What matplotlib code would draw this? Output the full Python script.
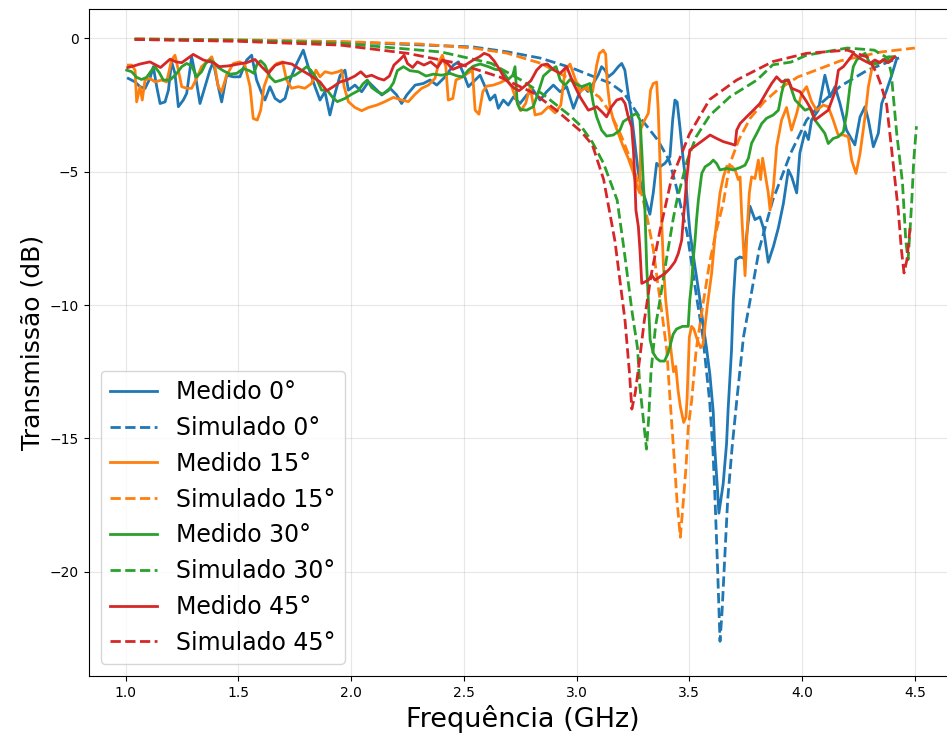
import matplotlib
matplotlib.use("Agg")
import matplotlib.pyplot as plt

# ---- Medido 0° ----
f_med_0 = [1.012, 1.042, 1.064, 1.086, 1.108, 1.123, 1.138, 1.153, 1.175, 1.190, 1.204, 1.219, 1.234, 1.256,
           1.271, 1.293, 1.308, 1.330, 1.352, 1.374, 1.389, 1.411, 1.426, 1.448, 1.478, 1.507, 1.537, 1.559,
           1.581, 1.604, 1.618, 1.640, 1.663, 1.685, 1.707, 1.729, 1.759, 1.788, 1.810, 1.840, 1.862, 1.884,
           1.906, 1.929, 1.951, 1.973, 1.988, 2.017, 2.047, 2.077, 2.099, 2.136, 2.173, 2.202, 2.224, 2.247,
           2.284, 2.320, 2.350, 2.380, 2.417, 2.454, 2.476, 2.498, 2.520, 2.542, 2.572, 2.594, 2.616, 2.638,
           2.653, 2.675, 2.697, 2.720, 2.749, 2.779, 2.808, 2.838, 2.867, 2.897, 2.927, 2.956, 2.986, 3.010,
           3.030, 3.050, 3.074, 3.096, 3.111, 3.126, 3.141, 3.163, 3.185, 3.200, 3.214, 3.229, 3.244, 3.259,
           3.273, 3.288, 3.307, 3.325, 3.340, 3.355, 3.370, 3.392, 3.414, 3.426, 3.436, 3.446, 3.458, 3.473,
           3.485, 3.495, 3.503, 3.525, 3.547, 3.562, 3.576, 3.591, 3.606, 3.613, 3.624, 3.631, 3.650, 3.665,
           3.672, 3.687, 3.695, 3.706, 3.724, 3.742, 3.754, 3.769, 3.791, 3.813, 3.828, 3.850, 3.873, 3.895,
           3.917, 3.939, 3.954, 3.976, 3.990, 4.013, 4.028, 4.042, 4.072, 4.101, 4.124, 4.146, 4.168, 4.197,
           4.234, 4.257, 4.279, 4.294, 4.316, 4.338, 4.353, 4.375, 4.397, 4.420]
db_med_0 = [-1.51, -1.64, -1.82, -1.89, -1.51, -1.07, -1.82, -2.45, -2.39, -1.95, -0.89, -1.32, -2.57, -2.32,
            -2.07, -0.70, -1.32, -2.45, -1.82, -1.20, -0.89, -1.82, -2.39, -1.39, -1.45, -1.45, -0.82, -0.64,
            -1.57, -2.07, -2.32, -1.82, -2.26, -2.39, -2.26, -1.57, -0.95, -0.45, -1.07, -1.82, -2.32, -2.01,
            -2.88, -2.07, -1.40, -1.20, -1.95, -1.76, -2.01, -1.64, -1.82, -2.13, -1.88, -2.13, -2.45, -2.13,
            -1.76, -1.70, -1.57, -1.76, -1.45, -1.01, -0.89, -1.32, -1.82, -1.64, -1.39, -1.82, -2.32, -2.13,
            -2.63, -2.32, -2.51, -2.20, -2.45, -2.13, -1.95, -2.32, -2.01, -1.76, -2.01, -1.82, -2.63, -2.10,
            -1.80, -2.00, -1.70, -1.38, -1.07, -1.20, -1.45, -1.30, -1.07, -0.95, -1.20, -2.10, -2.90, -4.00,
            -5.00, -5.60, -6.10, -6.60, -5.80, -4.69, -4.82, -4.69, -4.44, -3.07, -2.32, -2.40, -3.32, -4.57,
            -5.44, -6.57, -7.30, -8.57, -9.80, -10.8, -11.6, -12.6, -14.0, -15.4, -16.8, -17.8, -16.7, -15.2,
            -13.9, -11.7, -9.80, -8.30, -8.20, -8.25, -7.40, -6.30, -6.80, -6.70, -7.10, -8.40, -7.80, -7.10,
            -6.20, -4.94, -5.20, -5.80, -4.30, -3.51, -3.80, -3.07, -2.70, -1.39, -2.20, -1.82, -2.45, -3.45,
            -4.00, -2.95, -2.57, -3.07, -4.07, -3.57, -2.45, -1.95, -1.40, -0.76]

# ---- Simulado 0° ----
f_sim_0 = [1.04, 1.30, 1.60, 1.95, 2.20, 2.54, 2.69, 2.84, 2.98, 3.06, 3.15, 3.21, 3.28, 3.36, 3.41, 3.44,
           3.49, 3.534, 3.56, 3.59, 3.605, 3.614, 3.625, 3.636, 3.645, 3.655, 3.67, 3.69, 3.71, 3.74, 3.77,
           3.81, 3.87, 3.95, 4.02, 4.09, 4.17, 4.29, 4.43]
db_sim_0 = [-0.05, -0.07, -0.10, -0.14, -0.22, -0.33, -0.51, -0.75, -1.12, -1.39, -1.69, -2.06, -2.96, -3.82,
            -4.57, -5.50, -7.30, -9.80, -11.2, -13.6, -15.5, -17.3, -19.8, -22.6, -21.5, -19.8, -17.3, -15.3,
            -13.6, -11.2, -9.80, -7.90, -6.07, -4.30, -3.07, -2.40, -1.80, -1.20, -0.74]

# ---- Medido 15° ----
f_med_15 = [1.012, 1.027, 1.042, 1.049, 1.064, 1.074, 1.086, 1.108, 1.130, 1.160, 1.182, 1.204, 1.219, 1.234,
            1.249, 1.271, 1.293, 1.315, 1.337, 1.360, 1.382, 1.396, 1.411, 1.426, 1.448, 1.478, 1.507, 1.529,
            1.552, 1.566, 1.584, 1.599, 1.614, 1.640, 1.670, 1.696, 1.714, 1.736, 1.766, 1.795, 1.825, 1.844,
            1.862, 1.884, 1.914, 1.943, 1.958, 1.969, 1.988, 2.017, 2.047, 2.077, 2.114, 2.150, 2.188, 2.224,
            2.254, 2.284, 2.313, 2.343, 2.372, 2.390, 2.405, 2.420, 2.431, 2.451, 2.465, 2.490, 2.520, 2.538,
            2.550, 2.567, 2.584, 2.601, 2.631, 2.661, 2.690, 2.712, 2.731, 2.752, 2.774, 2.794, 2.816, 2.845,
            2.875, 2.905, 2.930, 2.949, 2.971, 2.993, 3.015, 3.045, 3.071, 3.089, 3.101, 3.111, 3.118, 3.129,
            3.136, 3.148, 3.163, 3.185, 3.207, 3.229, 3.250, 3.270, 3.280, 3.285, 3.300, 3.318, 3.328, 3.340,
            3.355, 3.362, 3.370, 3.377, 3.385, 3.395, 3.410, 3.420, 3.430, 3.440, 3.450, 3.460, 3.475, 3.485,
            3.490, 3.500, 3.510, 3.520, 3.535, 3.550, 3.560, 3.580, 3.599, 3.614, 3.636, 3.651, 3.666, 3.688,
            3.703, 3.717, 3.725, 3.732, 3.740, 3.747, 3.757, 3.766, 3.776, 3.791, 3.806, 3.816, 3.825, 3.836,
            3.850, 3.858, 3.873, 3.887, 3.909, 3.931, 3.953, 3.976, 3.998, 4.020, 4.042, 4.064, 4.094, 4.116,
            4.138, 4.160, 4.183, 4.205, 4.220, 4.239, 4.257, 4.279, 4.294, 4.308, 4.323, 4.345, 4.375, 4.405]
db_med_15 = [-1.01, -1.01, -1.20, -2.39, -1.82, -2.32, -1.57, -1.51, -1.64, -1.57, -1.64, -0.82, -0.64, -1.20,
             -1.82, -1.88, -1.88, -1.51, -1.07, -0.89, -0.70, -1.07, -1.82, -2.01, -1.39, -0.95, -0.89, -1.01,
             -1.82, -3.01, -3.07, -2.70, -1.82, -1.20, -0.95, -0.89, -1.57, -1.88, -1.82, -1.88, -1.70, -1.20,
             -1.45, -1.26, -1.32, -1.26, -1.20, -1.82, -2.38, -2.60, -2.72, -2.60, -2.51, -2.38, -2.22, -2.32,
             -2.38, -2.10, -1.88, -1.76, -1.51, -0.89, -0.64, -1.07, -2.32, -2.26, -1.57, -1.47, -1.30, -1.20,
             -2.70, -2.85, -2.01, -1.80, -1.76, -1.67, -1.55, -1.82, -2.26, -2.72, -2.45, -1.82, -2.88, -2.82,
             -2.57, -2.80, -2.51, -1.20, -0.97, -1.51, -2.01, -1.82, -2.01, -1.01, -0.57, -0.51, -0.45, -0.60,
             -1.70, -2.57, -3.07, -3.57, -4.07, -4.50, -5.00, -5.60, -5.80, -3.40, -3.10, -2.82, -1.95, -1.70,
             -1.65, -2.70, -4.70, -6.80, -8.50, -9.80, -11.0, -11.8, -12.5, -12.3, -13.2, -13.8, -14.4, -14.2,
             -13.5, -11.2, -10.8, -10.9, -11.3, -11.6, -11.5, -10.0, -8.80, -7.40, -5.80, -5.20, -4.80, -4.80,
             -4.94, -5.30, -5.20, -6.60, -7.80, -8.90, -7.10, -5.80, -5.20, -5.26, -4.57, -5.30, -4.50, -5.07,
             -5.80, -6.44, -5.57, -4.07, -3.07, -2.60, -3.45, -2.82, -2.07, -1.82, -2.38, -2.70, -2.51, -2.57,
             -3.07, -3.63, -3.63, -3.70, -4.57, -5.07, -4.32, -2.95, -1.82, -1.20, -0.95, -0.89, -0.82, -0.70]

# ---- Simulado 15° ----
f_sim_15 = [1.04, 1.50, 1.95, 2.30, 2.54, 2.69, 2.84, 2.98, 3.10, 3.15, 3.20, 3.25, 3.29, 3.31, 3.34, 3.36,
            3.38, 3.40, 3.415, 3.43, 3.445, 3.46, 3.47, 3.485, 3.495, 3.51, 3.53, 3.56, 3.59, 3.62, 3.65,
            3.68, 3.72, 3.77, 3.83, 3.89, 3.98, 4.04, 4.17, 4.35, 4.50]
db_sim_15 = [-0.03, -0.06, -0.13, -0.22, -0.37, -0.56, -0.94, -1.57, -2.20, -2.80, -3.70, -4.80, -5.90, -6.60,
             -7.90, -9.20, -10.4, -11.7, -13.6, -15.4, -17.3, -18.7, -17.7, -16.1, -14.6, -13.6, -11.7, -10.0,
             -8.40, -7.20, -6.20, -4.70, -3.80, -3.00, -2.40, -1.95, -1.46, -1.27, -0.85, -0.52, -0.37]

# ---- Medido 30° ----
f_med_30 = [1.005, 1.027, 1.049, 1.071, 1.093, 1.116, 1.130, 1.150, 1.167, 1.197, 1.224, 1.249, 1.271, 1.293,
            1.315, 1.337, 1.355, 1.374, 1.392, 1.411, 1.433, 1.463, 1.493, 1.522, 1.549, 1.569, 1.584, 1.599,
            1.618, 1.640, 1.663, 1.692, 1.722, 1.751, 1.781, 1.803, 1.821, 1.844, 1.869, 1.894, 1.918, 1.939,
            1.973, 2.003, 2.032, 2.052, 2.072, 2.091, 2.117, 2.140, 2.165, 2.188, 2.205, 2.232, 2.261, 2.298,
            2.332, 2.365, 2.402, 2.439, 2.471, 2.495, 2.520, 2.542, 2.572, 2.609, 2.638, 2.668, 2.697, 2.717,
            2.727, 2.737, 2.749, 2.779, 2.808, 2.831, 2.853, 2.882, 2.909, 2.927, 2.949, 2.971, 2.993, 3.023,
            3.059, 3.074, 3.089, 3.111, 3.133, 3.163, 3.192, 3.207, 3.229, 3.252, 3.266, 3.281, 3.289, 3.296,
            3.303, 3.311, 3.318, 3.326, 3.340, 3.355, 3.370, 3.390, 3.406, 3.428, 3.443, 3.470, 3.495, 3.502,
            3.510, 3.517, 3.525, 3.532, 3.540, 3.555, 3.570, 3.592, 3.606, 3.621, 3.636, 3.666, 3.695, 3.725,
            3.747, 3.762, 3.776, 3.799, 3.821, 3.843, 3.872, 3.895, 3.909, 3.924, 3.939, 3.954, 3.969, 3.991,
            4.013, 4.035, 4.057, 4.079, 4.101, 4.116, 4.138, 4.160, 4.183, 4.198, 4.212, 4.227, 4.242, 4.257,
            4.279, 4.301, 4.316, 4.338, 4.360, 4.382, 4.405]
db_med_30 = [-1.20, -1.26, -1.47, -1.55, -1.47, -1.20, -1.07, -1.30, -1.57, -1.57, -1.35, -1.07, -0.95, -1.04,
             -1.45, -1.26, -0.95, -0.82, -0.92, -1.10, -1.22, -1.35, -1.32, -1.14, -1.22, -1.32, -0.95, -0.85,
             -1.01, -1.45, -1.64, -1.57, -1.47, -1.39, -1.22, -1.07, -1.20, -1.47, -1.95, -1.95, -2.22, -2.38,
             -2.26, -2.10, -1.97, -1.72, -1.57, -1.85, -2.01, -2.10, -1.97, -1.67, -1.22, -1.07, -1.22, -1.26,
             -1.42, -1.35, -1.39, -1.32, -1.42, -1.45, -1.20, -1.05, -0.97, -1.07, -1.17, -1.20, -1.55, -1.39,
             -1.07, -2.45, -2.67, -2.70, -2.57, -2.01, -1.42, -1.20, -1.07, -1.57, -1.76, -1.55, -1.70, -1.82,
             -1.70, -2.45, -2.95, -3.45, -3.67, -3.63, -3.45, -3.13, -3.01, -2.88, -2.82, -3.07, -4.19, -5.44,
             -6.44, -8.57, -9.80, -11.3, -11.8, -12.0, -12.1, -12.1, -11.8, -11.1, -10.9, -10.8, -10.8, -9.80,
             -9.20, -8.30, -7.60, -6.80, -6.07, -5.07, -4.82, -4.70, -4.57, -4.70, -4.94, -4.88, -4.94, -4.85,
             -4.76, -4.50, -3.94, -3.57, -3.20, -3.00, -2.88, -2.70, -2.07, -1.57, -1.57, -1.95, -2.32, -2.51,
             -2.70, -2.63, -3.07, -3.32, -3.57, -3.95, -3.76, -3.70, -3.51, -2.82, -1.82, -1.07, -0.82, -0.70,
             -0.57, -0.95, -0.95, -0.95, -0.82, -0.70, -0.70]

# ---- Simulado 30° ----
f_sim_30 = [1.04, 1.50, 1.95, 2.40, 2.62, 2.76, 2.85, 2.91, 2.97, 3.02, 3.07, 3.12, 3.18, 3.21, 3.23, 3.245,
            3.27, 3.28, 3.30, 3.31, 3.32, 3.33, 3.35, 3.37, 3.40, 3.43, 3.445, 3.49, 3.53, 3.59, 3.68, 3.80,
            3.87, 3.95, 4.02, 4.20, 4.32, 4.38, 4.395, 4.42, 4.445, 4.46, 4.47, 4.48, 4.487, 4.495, 4.507]
db_sim_30 = [-0.03, -0.08, -0.19, -0.52, -0.94, -1.60, -2.10, -2.50, -2.90, -3.30, -3.90, -4.70, -6.07, -7.90,
             -9.20, -10.2, -11.6, -13.0, -14.6, -15.4, -14.2, -12.5, -10.8, -9.80, -8.20, -6.70, -6.07, -4.60,
             -3.70, -2.90, -2.20, -1.57, -1.00, -0.90, -0.64, -0.37, -0.45, -0.75, -1.30, -3.60, -5.40, -7.60,
             -8.30, -7.00, -6.00, -4.60, -3.30]

# ---- Medido 45° ----
f_med_45 = [1.010, 1.034, 1.064, 1.108, 1.155, 1.197, 1.224, 1.249, 1.300, 1.345, 1.389, 1.416, 1.456, 1.500,
            1.540, 1.574, 1.603, 1.633, 1.663, 1.699, 1.737, 1.774, 1.818, 1.862, 1.892, 1.921, 1.951, 1.981,
            2.017, 2.043, 2.066, 2.091, 2.121, 2.146, 2.170, 2.190, 2.217, 2.235, 2.250, 2.273, 2.294, 2.323,
            2.353, 2.383, 2.405, 2.427, 2.451, 2.480, 2.510, 2.542, 2.569, 2.590, 2.612, 2.634, 2.658, 2.678,
            2.702, 2.724, 2.745, 2.767, 2.797, 2.823, 2.845, 2.870, 2.900, 2.927, 2.956, 2.986, 3.015, 3.052,
            3.075, 3.089, 3.119, 3.133, 3.155, 3.178, 3.200, 3.215, 3.229, 3.244, 3.252, 3.259, 3.263, 3.274,
            3.281, 3.289, 3.318, 3.333, 3.348, 3.370, 3.392, 3.414, 3.436, 3.451, 3.466, 3.473, 3.481, 3.488,
            3.502, 3.533, 3.562, 3.592, 3.621, 3.651, 3.680, 3.703, 3.710, 3.725, 3.754, 3.784, 3.813, 3.843,
            3.865, 3.887, 3.909, 3.939, 3.954, 3.991, 4.020, 4.042, 4.057, 4.087, 4.116, 4.146, 4.161, 4.183,
            4.212, 4.227, 4.257, 4.286, 4.301, 4.323, 4.345, 4.360, 4.382, 4.412]
db_med_45 = [-1.10, -1.05, -0.97, -0.89, -1.10, -0.79, -0.89, -0.92, -0.61, -0.82, -0.92, -1.07, -1.04, -0.97,
             -0.91, -0.80, -1.07, -1.32, -1.02, -0.91, -0.97, -1.17, -1.39, -1.64, -1.97, -1.82, -1.64, -1.57,
             -1.42, -1.26, -1.45, -1.39, -1.51, -1.57, -1.42, -1.01, -0.80, -0.64, -0.95, -1.10, -0.89, -1.01,
             -0.89, -1.10, -0.82, -0.95, -1.17, -1.07, -0.99, -0.82, -0.70, -0.57, -0.64, -0.85, -1.17, -1.47,
             -1.70, -1.88, -1.97, -1.82, -1.60, -1.20, -1.01, -0.97, -1.20, -1.32, -1.07, -1.70, -2.20, -2.70,
             -2.63, -2.57, -2.82, -2.95, -2.57, -2.32, -2.26, -2.45, -2.95, -3.32, -4.19, -5.44, -6.44, -7.07,
             -7.94, -9.19, -9.07, -8.88, -9.07, -8.94, -8.82, -8.63, -8.38, -8.07, -7.57, -6.82, -6.07, -5.30,
             -4.19, -4.00, -3.82, -3.63, -3.76, -3.88, -3.95, -4.01, -3.45, -3.20, -2.95, -2.70, -2.45, -2.01,
             -1.70, -1.45, -1.64, -1.57, -1.88, -2.01, -2.38, -2.70, -3.07, -2.88, -2.70, -2.01, -1.20, -1.07,
             -0.76, -0.57, -0.76, -0.89, -0.95, -0.82, -0.92, -0.80, -0.92, -0.70]

# ---- Simulado 45° ----
f_sim_45 = [1.04, 1.50, 1.95, 2.25, 2.47, 2.66, 2.81, 2.91, 3.02, 3.07, 3.12, 3.17, 3.215, 3.235, 3.245, 3.26,
            3.28, 3.30, 3.33, 3.37, 3.42, 3.50, 3.59, 3.71, 3.87, 4.02, 4.20, 4.29, 4.33, 4.35, 4.375, 4.40,
            4.427, 4.44, 4.452, 4.465, 4.48]
db_sim_45 = [-0.05, -0.12, -0.26, -0.57, -0.94, -1.46, -2.06, -2.70, -3.50, -4.00, -5.30, -7.60, -10.6, -12.6,
             -13.9, -13.3, -12.0, -10.6, -8.90, -7.20, -5.30, -3.60, -2.30, -1.57, -0.88, -0.57, -0.45, -0.71,
             -1.30, -1.75, -2.50, -4.40, -6.50, -7.90, -8.80, -8.30, -7.00]

series = [
    ("Medido 0°", f_med_0, db_med_0, "tab:blue", "-"),
    ("Simulado 0°", f_sim_0, db_sim_0, "tab:blue", "--"),
    ("Medido 15°", f_med_15, db_med_15, "tab:orange", "-"),
    ("Simulado 15°", f_sim_15, db_sim_15, "tab:orange", "--"),
    ("Medido 30°", f_med_30, db_med_30, "tab:green", "-"),
    ("Simulado 30°", f_sim_30, db_sim_30, "tab:green", "--"),
    ("Medido 45°", f_med_45, db_med_45, "tab:red", "-"),
    ("Simulado 45°", f_sim_45, db_sim_45, "tab:red", "--"),
]

fig = plt.figure(figsize=(9.47, 7.40), dpi=100)
ax = fig.add_axes([0.0938, 0.0865, 0.9163, 0.9013])

for label, f, db, color, ls in series:
    ax.plot(f, db, color=color, linestyle=ls, linewidth=2, label=label)

ax.set_xlim(0.837, 4.685)
ax.set_ylim(-23.9, 1.09)
ax.set_xlabel("Frequência (GHz)", fontsize=19.5)
ax.set_ylabel("Transmissão (dB)", fontsize=18)
ax.grid(True, alpha=0.3)
ax.legend(loc="lower left", fontsize=17, labelspacing=0.5)

fig.savefig("out.png", dpi=100)
